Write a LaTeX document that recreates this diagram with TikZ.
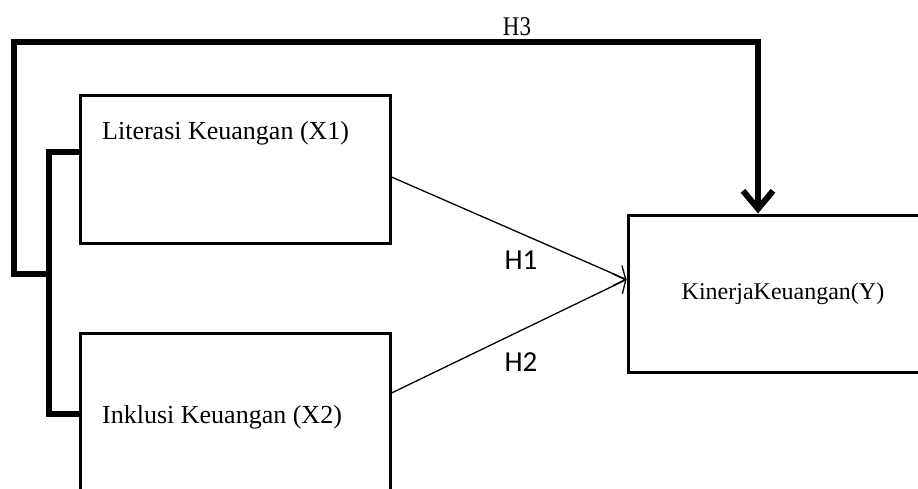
\documentclass[tikz,border=0pt]{standalone}
\usepackage{fontspec}
\setmainfont{Liberation Serif}
\newfontfamily\hypfont{Carlito}
\usetikzlibrary{arrows.meta}

\begin{document}
\begin{tikzpicture}[x=1pt,y=-1pt,
 box/.style={draw,line width=3pt,minimum width=310pt,inner sep=0pt},
 thk/.style={line width=6pt},
 txt/.style={font=\fontsize{26}{30}\selectfont,inner sep=0pt},
 hyp/.style={font=\hypfont\fontsize{29}{33}\selectfont,inner sep=0pt}]
\useasboundingbox (0,0) rectangle (918,488);
\clip (0,0) rectangle (918,488);
\node[box,minimum height=148pt] (lit) at (235,169) {};
\node[box,minimum height=200pt] (ink) at (235,433) {};
\node[box,minimum height=157pt,font=\fontsize{24}{28}\selectfont] (kin) at (783,293.5) {KinerjaKeuangan(Y)};
\node[txt,anchor=west] (litT) at (102,133) {Literasi Keuangan (X1)};
\node[txt,anchor=west] (inkT) at (102,417) {Inklusi Keuangan (X2)};
\coordinate (jn) at (49,274); \coordinate (lb) at (14,274); \coordinate (h3) at (758,42);
\coordinate (tip) at ([yshift=14pt]kin.west);
% bracket X1 -- X2 and H3
\draw[thk] ([yshift=17pt]lit.west) -| (jn) |- ([yshift=19pt]ink.west);
\draw[thk,-{Straight Barb[length=18pt,width=30pt]}] (jn) -- (lb) |- (h3) -- (h3 |- kin.north);
\node[font=\fontsize{27}{30}\selectfont,inner sep=0pt,xscale=.85] (h3T) at (517,27) {H3};
% H1, H2
\draw[line width=1.3pt,-{Straight Barb[length=9pt,width=22pt]}] ([yshift=-8pt]lit.east) -- (tip);
\draw[line width=1.3pt,-{Straight Barb[length=9pt,width=22pt]}] ([yshift=40pt]ink.east) -- (tip);
\node[hyp] (h1T) at (521,260) {H1};
\node[hyp] (h2T) at (521,362) {H2};
\end{tikzpicture}
\end{document}
